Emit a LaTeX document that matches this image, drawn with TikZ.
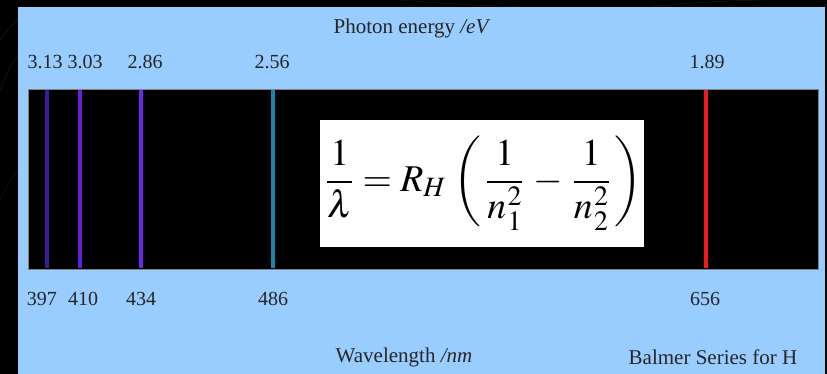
\documentclass[tikz,border=0pt]{standalone}
\usepackage{amsmath}
\usepackage{mathptmx}
\usepackage{fontspec}
\setmainfont{Liberation Serif}
\usepackage{tikz}

\definecolor{panelblue}{HTML}{99CCFF}
\definecolor{lineA}{HTML}{3C1A9A}
\definecolor{lineB}{HTML}{6420D8}
\definecolor{lineC}{HTML}{6A28EE}
\definecolor{lineD}{HTML}{1A86B0}
\definecolor{lineE}{HTML}{F01818}

\begin{document}
\begin{tikzpicture}[x=1pt, y=-1pt,
    label/.style={inner sep=0pt, font=\fontsize{20}{24}\selectfont, text=black!85},
    caption/.style={inner sep=0pt, font=\fontsize{21}{25}\selectfont, text=black!85},
    specline/.style={line width=4.5pt}]
    % background and panel
    \fill[black] (0,0) rectangle (827,374);
    \useasboundingbox (0,0) rectangle (827,374);
    \draw[green!40!black, opacity=0.5] (0,40) .. controls (8,30) .. (18,18);
    \draw[green!40!black, opacity=0.5] (0,90) .. controls (8,70) .. (18,55);
    \draw[green!40!black, opacity=0.4] (0,200) .. controls (10,180) .. (18,170);
    \draw[green!40!black, opacity=0.4] (400,0) .. controls (450,4) .. (520,7);
    \draw[green!40!black, opacity=0.4] (650,7) .. controls (700,2) .. (760,0);
    \fill[panelblue] (18,7) rectangle (825,374);

    % spectrum strip
    \node[draw=gray, line width=0.8pt, fill=black, minimum width=790pt, minimum height=180pt,
        inner sep=0pt, anchor=north west] (strip) at (28,89) {};
    \foreach \x/\col/\ev/\nm/\evx/\nmx in {47/lineA/3.13/397/45/42, 80/lineB/3.03/410/85/83,
        141/lineC/2.86/434/145/141, 273/lineD/2.56/486/272/273, 706/lineE/1.89/656/707/705} {
        \draw[specline, \col] (\x,90) -- (\x,268);
        \node[label] (ev\nm) at (\evx,62) {\ev};
        \node[label] (nm\nm) at (\nmx,299) {\nm};
    }

    % formula
    \node[fill=white, minimum width=324pt, minimum height=127pt, inner sep=0pt] (eq) at (482,183.5)
        {\hspace*{4pt}\scalebox{1.4}{\fontsize{27}{32}\selectfont$\displaystyle \frac{1}{\lambda} = R_{H\,}\left(\,\frac{1}{n_{\kern1pt 1}^{\kern1pt 2}} \,-\, \frac{1}{n_{\kern1pt 2}^{\kern1pt 2}}\,\right)$}};

    % captions
    \node[caption] (energy) at (412,28) {Photon energy \textit{/eV}};
    \node[caption] (wave) at (404,357) {Wavelength \textit{/nm}};
    \node[caption] (series) at (713,357) {Balmer Series for H};
\end{tikzpicture}
\end{document}
